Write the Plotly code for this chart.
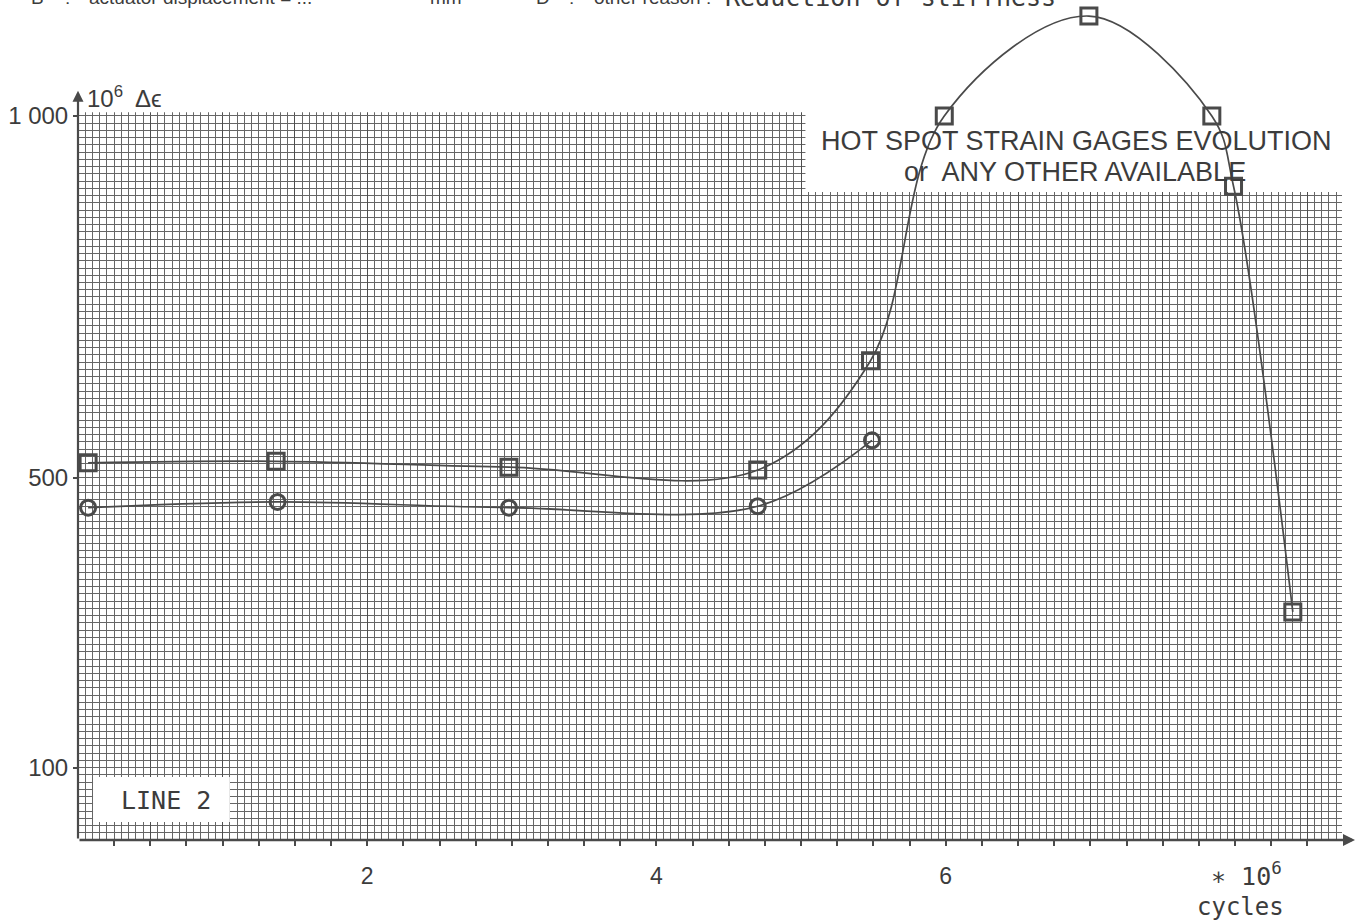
import numpy as np
import plotly.graph_objects as go

# ---- data ----
sq_x = [0.07, 1.37, 2.98, 4.70, 5.48, 5.99, 6.99, 7.84, 7.99, 8.40]
sq_y = [521, 523, 515, 511, 662, 1000, 1138, 1000, 903, 315]
ci_x = [0.07, 1.38, 2.98, 4.70, 5.49]
ci_y = [459, 467, 459, 461, 552]

x_label_vals = [2, 4, 6]
y_label_vals = [100, 500, 1000]
y_label_text = ["100", "500", "1 000"]

X_MAX = 8.83
Y_MAX = 1160.2
GRID_X_END = 8.74
GRID_TOP = 1005
BOX_LEFT = 5.03
BOX_BOTTOM = 895

INK = "#4a4a4a"
TXT = "#3c3c3c"
SANS = "Liberation Sans"
MONO = "DejaVu Sans Mono"

x_small_ticks = [round(v, 2) for v in np.arange(0.25, GRID_X_END, 0.25)]
x_ticktext = [str(int(v)) if v in x_label_vals else "" for v in x_small_ticks]
x_major_grid = [round(v, 2) for v in np.arange(0.5, GRID_X_END, 0.5)]

fig = go.Figure()
fig.add_trace(go.Scatter(
    x=sq_x, y=sq_y, mode="lines+markers",
    line=dict(color=INK, width=1.7, shape="spline", smoothing=1.0),
    marker=dict(symbol="square-open", size=16, color=INK, line=dict(width=3, color="#555")),
    showlegend=False, cliponaxis=False,
))
fig.add_trace(go.Scatter(
    x=ci_x, y=ci_y, mode="lines+markers",
    line=dict(color=INK, width=1.7, shape="spline", smoothing=1.0),
    marker=dict(symbol="circle-open", size=15, color=INK, line=dict(width=3, color="#555")),
    showlegend=False, cliponaxis=False,
))
# empty helper trace so the overlaid tick axis (x2) is created
fig.add_trace(go.Scatter(x=[], y=[], xaxis="x2", yaxis="y", showlegend=False, hoverinfo="skip"))

# white masks hiding the graph-paper grid outside its printed area
masks = [
    (0, X_MAX, GRID_TOP, Y_MAX),
    (BOX_LEFT, X_MAX, BOX_BOTTOM, GRID_TOP + 1),
    (GRID_X_END, X_MAX, 0.5, BOX_BOTTOM + 1),
    (0.104, 1.05, 25, 87),
]
for x0, x1, y0, y1 in masks:
    fig.add_shape(type="rect", x0=x0, x1=x1, y0=y0, y1=y1, xref="x", yref="y",
                  fillcolor="white", line=dict(width=0), layer="between")

# axes arrows
fig.add_annotation(x=0, y=1035, ax=0, ay=0, xref="x", yref="y", axref="x", ayref="y",
                   showarrow=True, arrowhead=2, arrowsize=1, arrowwidth=2.2, arrowcolor=INK, text="")
fig.add_annotation(x=X_MAX, y=0, ax=0, ay=0, xref="x", yref="y", axref="x", ayref="y",
                   showarrow=True, arrowhead=2, arrowsize=1, arrowwidth=2.4, arrowcolor=INK, text="")

def px2px(px):
    return (px - 78) / 1277.0

def py2py(py):
    return (840 - py) / 840.0

# texts
fig.add_annotation(x=0.05, y=1026, xref="x", yref="y", xanchor="left", yanchor="middle",
                   text="10<sup>6</sup>  Δϵ", showarrow=False, font=dict(family=SANS, size=24, color=TXT))
fig.add_annotation(x=6.903, y=965.5, xref="x", yref="y", xanchor="center", yanchor="middle",
                   text="HOT SPOT STRAIN GAGES EVOLUTION", showarrow=False,
                   font=dict(family=SANS, size=27, color=TXT))
fig.add_annotation(x=6.895, y=922.6, xref="x", yref="y", xanchor="center", yanchor="middle",
                   text="or  ANY OTHER AVAILABLE", showarrow=False,
                   font=dict(family=SANS, size=27, color=TXT))
fig.add_annotation(x=0.61, y=55, xref="x", yref="y", xanchor="center", yanchor="middle",
                   text="LINE 2", showarrow=False, font=dict(family=MONO, size=25, color=TXT))
fig.add_annotation(x=px2px(1246), y=py2py(874), xref="paper", yref="paper", xanchor="center",
                   yanchor="middle", text="∗ 10<sup>6</sup>", showarrow=False,
                   font=dict(family=MONO, size=25, color=TXT))
fig.add_annotation(x=px2px(1240), y=py2py(907), xref="paper", yref="paper", xanchor="center",
                   yanchor="middle", text="cycles", showarrow=False,
                   font=dict(family=MONO, size=24, color=TXT))

top_items = [
    (29, "B", SANS, 19, -10),
    (63, ":", SANS, 19, -10),
    (87, "actuator displacement = ...", SANS, 19, -10),
    (428, "mm", SANS, 19, -10),
    (534, "D", SANS, 19, -10),
    (567, ":", SANS, 19, -10),
    (592, "other reason :", SANS, 19, -10),
    (723, "Reduction of stiffness", MONO, 25, -14),
]
for px, t, fam, sz, ys in top_items:
    fig.add_annotation(x=px2px(px), y=1, xref="paper", yref="paper", xanchor="left",
                       yanchor="bottom", yshift=ys, text=t, showarrow=False,
                       font=dict(family=fam, size=sz, color=TXT))

fig.update_layout(
    width=1356, height=922, margin=dict(l=78, r=1, t=0, b=82),
    plot_bgcolor="white", paper_bgcolor="white",
    xaxis=dict(
        range=[0, X_MAX], tickmode="array", tickvals=x_major_grid, showticklabels=False,
        ticks="", showgrid=True, gridcolor="#4e4e4e", gridwidth=1.4,
        minor=dict(dtick=0.05, tick0=0, showgrid=True, gridcolor="#666666", gridwidth=1.2, ticks=""),
        showline=False, zeroline=False,
    ),
    xaxis2=dict(
        range=[0, X_MAX], overlaying="x", anchor="y", side="bottom",
        tickmode="array", tickvals=x_small_ticks, ticktext=x_ticktext,
        ticks="outside", ticklen=5, tickwidth=1.6, tickcolor=INK,
        showgrid=False, showline=False, zeroline=False, ticklabelstandoff=10,
        tickfont=dict(family=SANS, size=23, color=TXT),
    ),
    yaxis=dict(
        range=[0, Y_MAX], tickmode="array", tickvals=y_label_vals, ticktext=y_label_text,
        ticks="outside", ticklen=4, tickwidth=1.6, tickcolor=INK,
        showgrid=True, gridcolor="#666666", gridwidth=1.2,
        minor=dict(dtick=10, tick0=0, showgrid=True, gridcolor="#666666", gridwidth=1.2, ticks=""),
        showline=False, zeroline=False,
        tickfont=dict(family=SANS, size=24, color=TXT),
    ),
)
fig.write_html("out.html")
